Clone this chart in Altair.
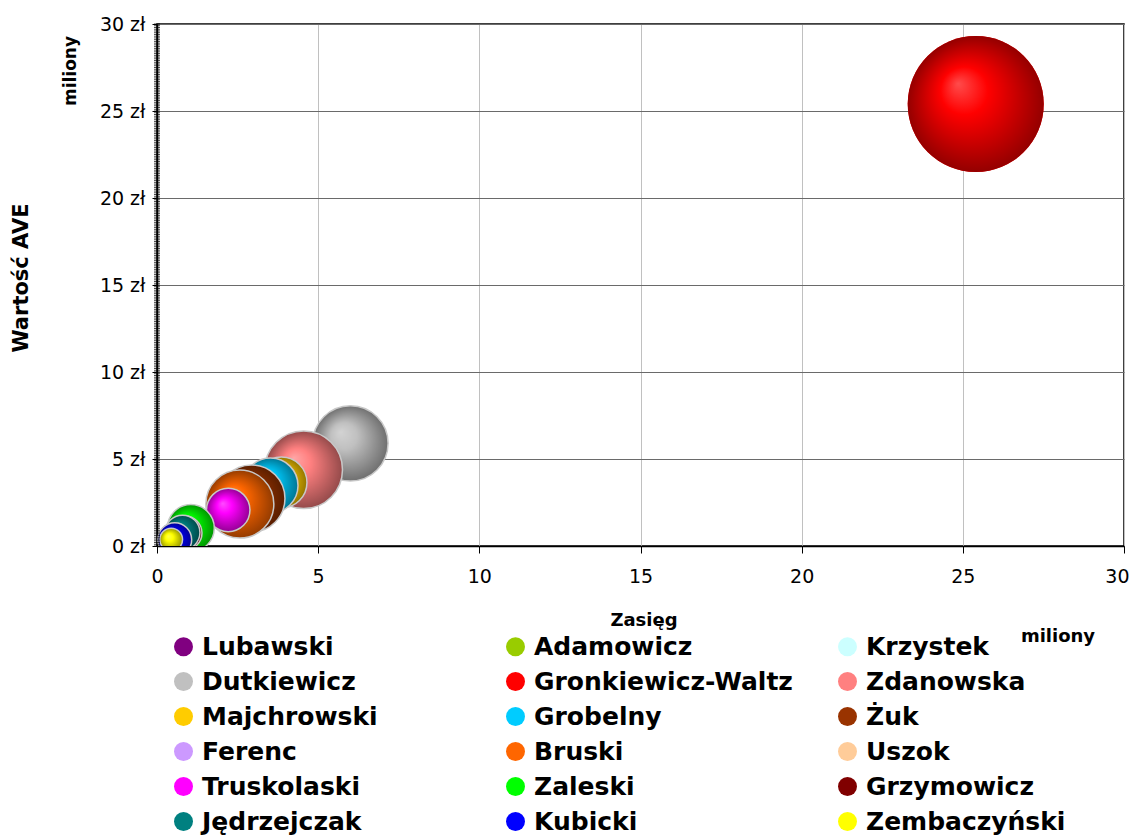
import altair as alt
import pandas as pd

# ---- data, in series order ----
names = ["Lubawski", "Dutkiewicz", "Majchrowski", "Ferenc", "Truskolaski", "Jędrzejczak",
         "Adamowicz", "Gronkiewicz-Waltz", "Grobelny", "Bruski", "Zaleski", "Kubicki",
         "Krzystek", "Zdanowska", "Żuk", "Uszok", "Grzymowicz", "Zembaczyński"]
colors = ["#800080", "#C0C0C0", "#FFCC00", "#CC99FF", "#FF00FF", "#008080",
          "#99CC00", "#FF0000", "#00CCFF", "#FF6600", "#00FF00", "#0000FF",
          "#CCFFFF", "#FF8080", "#993300", "#FFCC99", "#800000", "#FFFF00"]
zasieg = [2.21, 6.00, 3.86, 2.57, 2.21, 0.79,
          1.05, 25.40, 3.52, 2.57, 1.05, 0.55,
          6.00, 4.55, 2.93, 4.55, 0.87, 0.44]
wartosc_ave = [2.07, 5.90, 3.65, 2.41, 2.07, 0.77,
               1.03, 25.40, 3.47, 2.41, 1.03, 0.36,
               5.90, 4.38, 2.73, 4.38, 0.75, 0.37]
wielkosc = [50, 307, 141, 150, 102, 66,
            50, 1000, 164, 250, 119, 62,
            150, 326, 243, 200, 62, 28]

axis_ticks = [0, 5, 10, 15, 20, 25, 30]
minor_ticks = [i / 10 for i in range(0, 301)]

# bubbles painted in this order (later ones on top)
draw_order = ["Dutkiewicz", "Zdanowska", "Majchrowski", "Grobelny", "Żuk",
              "Bruski", "Truskolaski", "Zaleski", "Grzymowicz", "Jędrzejczak",
              "Kubicki", "Zembaczyński", "Gronkiewicz-Waltz"]

df = pd.DataFrame({"name": names, "zasieg": zasieg, "ave": wartosc_ave,
                   "wielkosc": wielkosc, "kolor": colors})

FONT = "DejaVu Sans"


def mix(hexc, target, t):
    a = [int(hexc[i:i + 2], 16) for i in (1, 3, 5)]
    b = [int(target[i:i + 2], 16) for i in (1, 3, 5)]
    c = [round(x + (y - x) * t) for x, y in zip(a, b)]
    return "#%02x%02x%02x" % tuple(c)


def grad(c):
    return {"gradient": "radial", "x1": 0.37, "y1": 0.35, "r1": 0,
            "x2": 0.5, "y2": 0.5, "r2": 0.5,
            "stops": [{"offset": 0, "color": mix(c, "#ffffff", 0.3)},
                      {"offset": 0.35, "color": c},
                      {"offset": 1, "color": mix(c, "#000000", 0.42)}]}


x_enc = alt.X("zasieg:Q", scale=alt.Scale(domain=[0, 30], nice=False, zero=True),
              axis=alt.Axis(values=axis_ticks, title=None, grid=True, gridColor="#c0c0c0",
                            gridWidth=1, domainColor="black", domainWidth=1.5,
                            tickColor="black", tickSize=7, labelPadding=14, labelFlush=False,
                            labelAlign={"condition": {"test": "datum.value >= 30", "value": "right"},
                                        "value": "center"},
                            labelOffset={"condition": {"test": "datum.value >= 30", "value": 5},
                                         "value": 0},
                            labelFont=FONT, labelFontSize=19, labelColor="black"))
y_enc = alt.Y("ave:Q", scale=alt.Scale(domain=[0, 30], nice=False, zero=True),
              axis=alt.Axis(values=axis_ticks, title=None, grid=True, gridColor="#6a6a6a",
                            gridWidth=1, domainColor="black", domainWidth=1.5,
                            tickColor="black", tickSize=5, labelPadding=7, labelFlush=False,
                            labelExpr="datum.value + ' zł'",
                            labelFont=FONT, labelFontSize=19, labelColor="black"))
size_enc = alt.Size("wielkosc:Q", scale=alt.Scale(domain=[0, 1000], range=[0, 18496], zero=True),
                    legend=None)

base = alt.Chart(df)

flat = base.mark_circle(opacity=1, clip=True).encode(
    x=x_enc, y=y_enc, size=size_enc,
    color=alt.Color("name:N", scale=alt.Scale(domain=names, range=colors),
                    legend=alt.Legend(orient="none", legendX=14, legendY=610, columns=3,
                                      title=None, symbolSize=361, symbolType="circle",
                                      symbolStrokeWidth=0,
                                      labelFont=FONT, labelFontSize=25, labelFontWeight="bold",
                                      labelColor="black", labelLimit=500, labelOffset=6,
                                      columnPadding=42, rowPadding=9, gridAlign="all",
                                      padding=0)))

layers = [flat]
for n in draw_order:
    c = colors[names.index(n)]
    stroke = {} if n == "Gronkiewicz-Waltz" else {"stroke": "#c8c8c8", "strokeWidth": 1.5}
    layers.append(
        base.transform_filter(alt.datum.name == n)
        .mark_circle(opacity=1, clip=True, fill=grad(c), **stroke)
        .encode(x=x_enc, y=y_enc, size=size_enc)
    )

minor = alt.Chart(pd.DataFrame({"ave": minor_ticks})).mark_tick(
    orient="horizontal", thickness=1, size=6, color="black"
).encode(y=y_enc, x=alt.value(0))
layers.append(minor)

one = pd.DataFrame({"t": [0]})


def label(text, x, y, size, angle=0):
    return alt.Chart(one).mark_text(text=text, font=FONT, fontSize=size, fontWeight="bold",
                                    color="black", angle=angle, align="center",
                                    baseline="middle").encode(x=alt.value(x), y=alt.value(y))


layers += [
    label("Wartość AVE", -135, 254, 21, 270),
    label("miliony", -86, 47, 17, 270),
    label("Zasięg", 487, 597, 18),
    label("miliony", 901, 613, 18),
]

chart = alt.layer(*layers).properties(
    width=967, height=522,
    autosize=alt.AutoSizeParams(type="none"),
    padding={"left": 149, "top": 16, "right": 5, "bottom": 289},
    background="white",
).configure_view(stroke="black", strokeWidth=1.5)

chart.save("out.html", embed_options={"renderer": "svg", "actions": False})
